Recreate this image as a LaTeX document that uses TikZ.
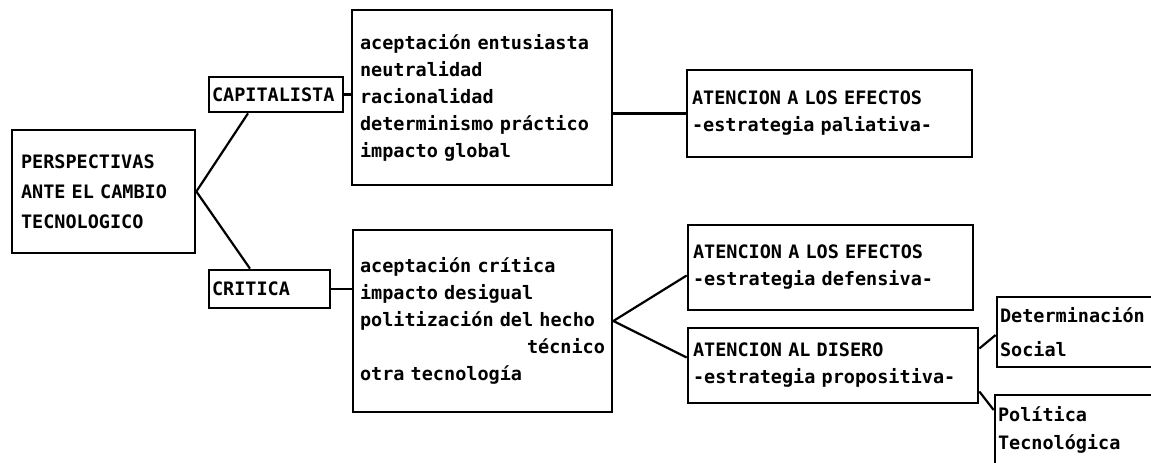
\documentclass[tikz,border=0pt]{standalone}
\usepackage{fontspec}
\newfontfamily\dotfont{DejaVu Sans Mono}
\begin{document}
\begin{tikzpicture}[x=1pt,y=-1pt,
  box/.style={draw, line width=2.7pt, align=left, inner ysep=0pt,
    font=\dotfont\bfseries\fontsize{18.5}{27}\selectfont},
  conn/.style={line width=2.2pt}]
\fill[white] (0,0) rectangle (1151,463);
\useasboundingbox (0,0) rectangle (1151,463);
\clip (0,0) rectangle (1151,463);

\node[box, inner xsep=9pt, text width=165pt, minimum height=123pt,
  font=\dotfont\bfseries\fontsize{18.5}{30}\selectfont]
  (root) at (103.5,191.5) {PERSPECTIVAS\\ANTE EL CAMBIO\\TECNOLOGICO};
\node[box, inner xsep=3pt, text width=128pt, minimum height=35pt]
  (cap) at (276,94.5) {CAPITALISTA};
\node[box, inner xsep=3pt, text width=115pt, minimum height=38pt]
  (crit) at (269.5,289) {CRITICA};
\node[box, inner xsep=8pt, text width=244pt, minimum height=175pt]
  (top) at (482,97.5) {aceptación entusiasta\\neutralidad\\racionalidad\\determinismo práctico\\impacto global\par\vspace*{10pt}};
\node[box, inner xsep=7pt, text width=245pt, minimum height=182pt]
  (bot) at (482.5,321) {aceptación crítica\\impacto desigual\\politización del hecho\\\hspace*{\fill}técnico\\otra tecnología\par\vspace*{14pt}};
\node[box, inner xsep=5pt, text width=275pt, minimum height=87pt]
  (pal) at (829.5,113.5) {ATENCION A LOS EFECTOS\\-estrategia paliativa-};
\node[box, inner xsep=5pt, text width=275pt, minimum height=85pt]
  (def) at (830.5,267.5) {ATENCION A LOS EFECTOS\\-estrategia defensiva-};
\node[box, inner xsep=5pt, text width=280pt, minimum height=75pt]
  (dis) at (833,365.5) {ATENCION AL DISERO\\-estrategia propositiva-};
\node[box, inner xsep=3pt, text width=167pt, minimum height=70pt,
  font=\dotfont\bfseries\fontsize{18.5}{34}\selectfont]
  (det) at (1083.5,332) {Determinación\\Social};
\node[box, inner xsep=3pt, text width=169pt, minimum height=70pt,
  font=\dotfont\bfseries\fontsize{18.5}{28}\selectfont]
  (pol) at (1082.5,430) {Política\\Tecnológica};

\draw[conn] (root.east) -- ([xshift=-28pt]cap.south);
\draw[conn] (root.east) -- ([xshift=-19.5pt]crit.north);
\draw[conn] (cap.east) -- (cap.east -| top.west);
\draw[conn] (crit.east) -- (crit.east -| bot.west);
\draw[conn] (pal.west -| top.east) -- (pal.west);
\draw[conn] (bot.east) -- ([yshift=-8pt]def.west);
\draw[conn] (bot.east) -- ([yshift=8pt]dis.west);
\draw[conn] ([yshift=17pt]dis.east) -- ([yshift=-3pt]det.west);
\draw[conn] ([yshift=-26pt]dis.east) -- ([yshift=20pt]pol.west);
\end{tikzpicture}
\end{document}
